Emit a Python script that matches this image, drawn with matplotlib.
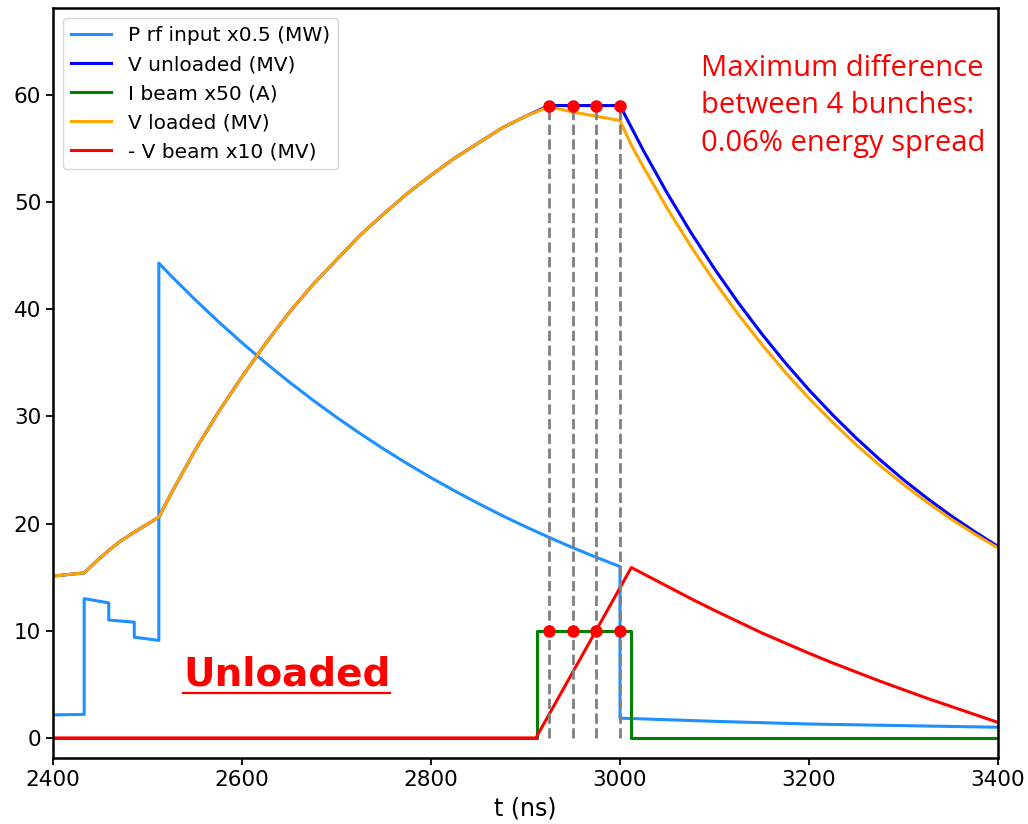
import matplotlib
matplotlib.use("Agg")
import matplotlib.pyplot as plt
import numpy as np

plt.rcParams['font.size'] = 14.5

# P rf input x0.5 (MW)
t_prf = [2400, 2433, 2433, 2459, 2459, 2486, 2486, 2512, 2512,
         2525, 2550, 2575, 2600, 2625, 2650, 2675, 2700, 2725, 2750, 2775,
         2800, 2825, 2850, 2875, 2900, 2925, 2950, 2975, 3000, 3000,
         3100, 3200, 3300, 3400]
p_rf = [2.15, 2.2, 13.0, 12.6, 11.0, 10.8, 9.4, 9.1, 44.3,
        43.11, 40.92, 38.84, 36.87, 34.99, 33.21, 31.52, 29.92, 28.40, 26.95, 25.58,
        24.28, 23.05, 21.88, 20.76, 19.71, 18.71, 17.75, 16.85, 15.99, 1.85,
        1.55, 1.3, 1.15, 1.0]

# cavity voltage, common part before the beam arrives
t_fill = [2400, 2433, 2446, 2459, 2472, 2486, 2499, 2512,
          2525, 2550, 2575, 2600, 2625, 2650, 2675, 2700, 2725, 2750,
          2775, 2800, 2825, 2850, 2875, 2900]
v_fill = [15.1, 15.4, 16.5, 17.5, 18.4, 19.2, 19.9, 20.6,
          22.8, 26.8, 30.4, 33.7, 36.8, 39.7, 42.3, 44.6, 46.9, 48.9,
          50.8, 52.5, 54.1, 55.5, 56.9, 58.0]

# V unloaded (MV) after 2900 ns
t_unl = [2925, 2950, 2975, 3000, 3025, 3050, 3075, 3100, 3125, 3150, 3175,
         3200, 3225, 3250, 3275, 3300, 3325, 3350, 3375, 3400]
v_unl = [59.0, 59.0, 59.0, 59.0, 54.76, 50.82, 47.16, 43.77, 40.62, 37.70, 34.99,
         32.47, 30.14, 27.97, 25.96, 24.09, 22.36, 20.75, 19.26, 17.87]

# V loaded (MV) after 2900 ns
t_lod = [2925, 2950, 2975, 3000, 3012, 3025, 3050, 3075, 3100, 3125, 3150,
         3175, 3200, 3225, 3250, 3275, 3300, 3325, 3350, 3375, 3400]
v_lod = [58.9, 58.4, 58.0, 57.6, 55.3, 53.23, 49.40, 45.86, 42.58, 39.53, 36.72,
         34.10, 31.68, 29.44, 27.35, 25.43, 23.64, 21.99, 20.45, 19.04, 17.72]

# I beam x50 (A)
t_ib = [2400, 2912, 2912, 3012, 3012, 3400]
i_beam = [0, 0, 10, 10, 0, 0]

# - V beam x10 (MV)
t_vb = [2400, 2911, 3012, 3025, 3050, 3075, 3100, 3125, 3150, 3175, 3200,
        3225, 3250, 3275, 3300, 3325, 3350, 3375, 3400]
v_beam = [0, 0, 15.9, 15.3, 14.15, 13.0, 11.9, 10.85, 9.8, 8.85, 7.9,
          7.0, 6.15, 5.3, 4.5, 3.7, 2.95, 2.2, 1.45]

# bunch arrival times
bunches = [2925, 2950, 2975, 3000]

t_unloaded = t_fill + t_unl
v_unloaded = v_fill + v_unl
t_loaded = t_fill + t_lod
v_loaded = v_fill + v_lod

fig = plt.figure(figsize=(10.28, 8.24), dpi=100)
ax = fig.add_axes([53 / 1028, 66 / 824, 945 / 1028, 750 / 824])

lw = 2.2
ax.plot(t_prf, p_rf, color='dodgerblue', lw=lw, label='P rf input x0.5 (MW)')
ax.plot(t_unloaded, v_unloaded, color='blue', lw=lw, label='V unloaded (MV)')
ax.plot(t_ib, i_beam, color='green', lw=lw, label='I beam x50 (A)')
ax.plot(t_loaded, v_loaded, color='orange', lw=lw, label='V loaded (MV)')
ax.plot(t_vb, v_beam, color='red', lw=lw, label='- V beam x10 (MV)')

for tb in bunches:
    ax.plot([tb, tb], [0, 59.0], color='gray', ls='--', lw=2)
ax.plot(bunches, [59.0] * 4, 'o', color='red', ms=8)
ax.plot(bunches, [10] * 4, 'o', color='red', ms=8)

ax.set_xlim(2400, 3400)
ax.set_ylim(-1.87, 68.1)
ax.set_xticks([2400, 2600, 2800, 3000, 3200, 3400])
ax.set_yticks([0, 10, 20, 30, 40, 50, 60])
ax.set_xlabel('t (ns)', fontsize=17, labelpad=5)
for s in ax.spines.values():
    s.set_linewidth(1.8)
ax.tick_params(length=5, width=1.3, labelsize=15.5)

ax.legend(loc='upper left')

note = ['Maximum difference', 'between 4 bunches:', '0.06% energy spread']
for i, line in enumerate(note):
    ax.text(0.686, 0.9097 - i * 0.05, line, transform=ax.transAxes,
            color='red', fontsize=21, family='Open Sans', va='baseline')

lab = ax.text(0.1376, 0.0973, 'Unloaded', transform=ax.transAxes,
              color='red', fontsize=28, family='DejaVu Sans', fontweight='bold',
              va='baseline')
fig.canvas.draw()
bb = lab.get_window_extent(fig.canvas.get_renderer())
inv = ax.transAxes.inverted()
(x0, _), (x1, _) = inv.transform([(bb.x0, bb.y0), (bb.x1, bb.y0)])
uy = 0.0973 - 8 / 750
ax.plot([x0, x1], [uy, uy], color='red', lw=1.6, transform=ax.transAxes,
        clip_on=False)

fig.savefig('out.png', dpi=100)
